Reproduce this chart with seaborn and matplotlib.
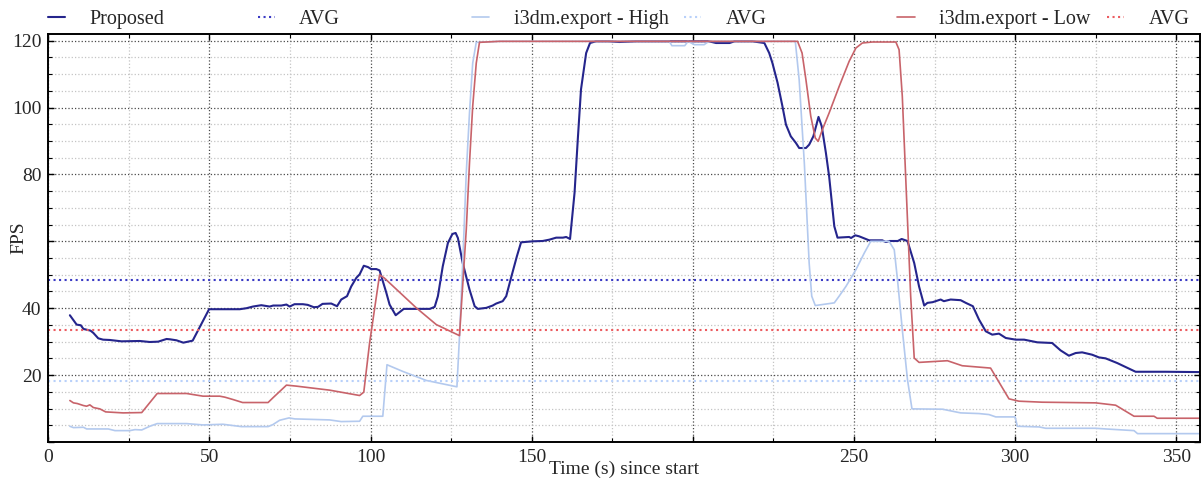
import numpy as np
import pandas as pd
import seaborn as sns
import matplotlib.pyplot as plt
from matplotlib.ticker import MultipleLocator

# values
proposed_t = [6.7, 8.8, 10.1, 10.9, 13.1, 14, 15.5, 17, 19.1, 22.7, 28.4, 31.5, 34.1, 36.7, 37.8, 39.8, 41.9, 44.8,
              49.9, 51.9, 59.4, 61.5, 63.5, 66.1, 68.7, 69.8, 72.3, 73.9, 74.9, 76.4, 79, 80.5, 82.4, 83.7, 85.1, 87.8,
              89.6, 90.9, 92.7, 94, 95.6, 96.6, 97.9, 99.2, 100.2, 101.8, 102.8, 104.9, 105.9, 107.8, 109, 110.3,
              114.2, 118.4, 119.9, 120.9, 122.4, 124, 125.4, 126.4, 127.1, 128.6, 130.7, 132.3, 133.3, 135.9, 137.9,
              139, 141, 142.1, 143.6, 145.4, 146.7, 150.3, 153.4, 155.5, 157.6, 159.7, 160.7, 161.9, 163.3, 164.3,
              165.3, 166.9, 168.1, 169.9, 174, 177.2, 182.4, 192.7, 205, 207.2, 211.4, 212.9, 218.5, 220.6, 222.2,
              223.7, 224.7, 226.3, 227.8, 228.9, 230.4, 232, 233, 235.1, 236.1, 237.4, 239, 240, 241.3, 242.3, 243.9,
              244.9, 248.5, 249.1, 250.4, 251.6, 254.7, 258.8, 259.9, 261, 263.6, 264.8, 266.6, 268.7, 270.2, 271.8,
              272.8, 274.4, 276.9, 277.9, 280, 283.1, 284.7, 286.9, 288.8, 290.9, 292.9, 295, 297.1, 300.2, 302.8,
              306.9, 311.5, 314.1, 316.7, 318.8, 320.8, 323.9, 326, 328.1, 331.7, 334.8, 337.4, 346.7, 357.3]
proposed_fps = [37.9, 35.1, 34.9, 33.8, 33.3, 32.6, 31.0, 30.6, 30.5, 30.1, 30.2, 29.9, 30.0, 30.8, 30.7, 30.4, 29.7,
                30.3, 39.7, 39.7, 39.7, 40.0, 40.5, 40.9, 40.5, 40.8, 40.8, 41.1, 40.5, 41.2, 41.2, 41.0, 40.3, 40.4,
                41.3, 41.4, 40.6, 42.6, 43.6, 46.5, 49.1, 50.1, 52.7, 52.3, 51.7, 51.7, 51.3, 44.6, 41.1, 37.9, 38.8,
                39.8, 39.8, 39.8, 40.4, 43.6, 52.5, 59.5, 62.2, 62.5, 61.0, 53.5, 45.6, 40.6, 39.8, 40.1, 40.8, 41.4,
                42.1, 43.6, 49.1, 55.5, 59.7, 60.0, 60.1, 60.5, 61.1, 61.1, 61.3, 60.7, 74.5, 90.4, 105.4, 116.3,
                119.3, 119.8, 119.8, 119.6, 119.8, 119.8, 119.8, 119.3, 119.3, 119.8, 119.8, 119.5, 119.3, 116.3,
                113.3, 107.4, 100.4, 94.9, 91.4, 89.4, 87.9, 87.9, 88.9, 91.4, 97.2, 94.4, 86.4, 79.4, 64.5, 61.1,
                61.3, 61.0, 61.8, 61.5, 60.3, 60.3, 59.8, 60.1, 60.1, 60.7, 60.1, 53.5, 46.5, 40.8, 41.6, 41.8, 42.6,
                42.1, 42.6, 42.4, 41.6, 40.6, 36.6, 33.1, 32.1, 32.4, 31.1, 30.6, 30.6, 29.8, 29.6, 27.4, 25.8, 26.6,
                26.8, 26.1, 25.3, 25.0, 23.6, 22.2, 21.0, 21.0, 20.9]

high_t = [6.7, 7.8, 10.9, 11.9, 18.6, 20.7, 25.3, 26.9, 29, 31.5, 33.8, 42.9, 48, 54.2, 59.9, 68.2, 69.7, 71.8, 74.7,
          76.5, 87.3, 90.9, 96.6, 97.6, 103.8, 105.1, 110, 117.3, 126.8, 127.6, 128.6, 129.7, 130.7, 131.7, 132.8,
          140, 192.7, 193.5, 197.5, 198.5, 200.5, 203.5, 205, 231.8, 233, 234.6, 236.1, 236.9, 238, 243.9, 245.4,
          247.5, 250.6, 253.2, 255.2, 260.9, 262.5, 263.5, 265, 266.6, 268, 277.5, 283.1, 288.8, 291.9, 294, 300,
          300.7, 307.5, 309.5, 325, 328.1, 336.9, 338, 357.3]
high_fps = [4.7, 4.3, 4.4, 3.9, 3.9, 3.4, 3.4, 3.7, 3.6, 4.7, 5.5, 5.5, 5.1, 5.3, 4.6, 4.6, 5.2, 6.5, 7.2, 6.9, 6.6,
            6.1, 6.2, 7.7, 7.7, 23.1, 21.1, 18.4, 16.5, 31.6, 53.5, 80.4, 98.4, 113.3, 119.5, 119.8, 119.8, 118.5,
            118.5, 119.8, 118.8, 118.8, 119.8, 119.8, 108.3, 83.4, 53.5, 43.6, 40.8, 41.6, 43.6, 46.5, 51.5, 56.5,
            60.0, 60.0, 57.5, 48.6, 33.6, 18.7, 9.9, 9.8, 8.7, 8.5, 8.2, 7.5, 7.5, 4.7, 4.5, 4.1, 4.1, 3.9, 3.4, 2.5,
            2.5]

low_t = [6.7, 7.8, 9, 10.9, 11.9, 12.9, 14, 16, 17.8, 23.2, 29, 33.8, 42.9, 48, 53.2, 54.8, 57.3, 60.3, 68.2, 69.7,
         73.9, 77, 87.3, 96.6, 97.9, 99.7, 102.8, 104.3, 114.2, 120.4, 127.6, 129.7, 130.7, 131.7, 132.8, 133.8, 140,
         232.5, 233.9, 235.1, 236.6, 238, 238.9, 240.2, 242.3, 245.4, 248.5, 250.6, 252.6, 255.7, 263, 264, 265,
         266.3, 267.6, 268.7, 270.2, 279, 283.6, 292.4, 298.1, 301.2, 308.4, 325, 331.2, 336.9, 343.1, 344.1, 357.3]
low_fps = [12.4, 11.7, 11.5, 10.9, 10.7, 11.1, 10.3, 9.9, 9.0, 8.7, 8.8, 14.5, 14.5, 13.7, 13.7, 13.4, 12.7, 11.8,
           11.8, 13.2, 17.0, 16.7, 15.5, 13.9, 14.9, 29.6, 50.0, 49.0, 40.1, 35.1, 31.8, 63.5, 83.4, 100.4, 113.3,
           119.5, 119.8, 119.8, 116.3, 108.3, 97.4, 90.9, 89.9, 93.4, 98.4, 106.3, 113.8, 117.8, 119.3, 119.6, 119.6,
           117.3, 103.4, 73.5, 43.6, 25.1, 23.8, 24.3, 22.8, 22.1, 12.9, 12.2, 11.9, 11.7, 11.0, 7.7, 7.7, 7.1, 7.1]

series_names = ["Proposed", "i3dm.export - High", "i3dm.export - Low"]
avg_fps = [48.5, 18.1, 33.6]
line_colors = ["#25258c", "#b3c9ee", "#c8636a"]
avg_colors = ["#3a3ac4", "#b8d0fa", "#ec5c60"]

x_ticks = [0, 50, 100, 150, 200, 250, 300, 350]
x_ticklabels = ["0", "50", "100", "150", "", "250", "300", "350"]
y_ticks = [0, 20, 40, 60, 80, 100, 120]
y_ticklabels = ["", "20", "40", "", "80", "100", "120"]

df = pd.concat([
    pd.DataFrame({"t": proposed_t, "fps": proposed_fps, "run": series_names[0]}),
    pd.DataFrame({"t": high_t, "fps": high_fps, "run": series_names[1]}),
    pd.DataFrame({"t": low_t, "fps": low_fps, "run": series_names[2]}),
])

sns.set_theme(style="ticks")
plt.rcParams['font.family'] = ['Liberation Serif', 'DejaVu Serif']
plt.rcParams['font.size'] = 14

fig, ax = plt.subplots(figsize=(12.01, 4.84), dpi=100)
fig.subplots_adjust(left=0.0402, right=0.9995, bottom=0.0868, top=0.9298)

widths = [1.5, 1.2, 1.2]
for name, col, avg, acol, lw in zip(series_names, line_colors, avg_fps, avg_colors, widths):
    sub = df[df["run"] == name]
    sns.lineplot(data=sub, x="t", y="fps", color=col, lw=lw, estimator=None, sort=False,
                 label=name, ax=ax, legend=False)
    ax.axhline(avg, color=acol, ls=":", lw=1.5, label="AVG")

ax.set_xlim(0, 357.5)
ax.set_ylim(0, 122)
ax.set_xticks(x_ticks)
ax.set_xticklabels(x_ticklabels)
ax.set_yticks(y_ticks)
ax.set_yticklabels(y_ticklabels)
ax.xaxis.set_minor_locator(MultipleLocator(25))
ax.yaxis.set_minor_locator(MultipleLocator(5))
ax.tick_params(which="both", direction="in", top=True, right=True, labelsize=14, color="black")
ax.tick_params(which="major", length=4, width=1, pad=5)
ax.tick_params(which="minor", length=3, width=0.8)
ax.grid(which="major", color="#4a4a4a", ls=":", lw=0.9)
ax.grid(which="minor", color="#c4c4c4", ls=":", lw=0.9)
ax.set_axisbelow(True)
for s in ax.spines.values():
    s.set_linewidth(1.4)
    s.set_color("black")

ax.set_xlabel("Time (s) since start", fontsize=14)
ax.set_ylabel("FPS", fontsize=14)
ax.xaxis.set_label_coords(0.5, -0.045)
ax.yaxis.set_label_coords(-0.018, 0.5)

# one legend box per entry so the columns start at even steps
handles, labels = ax.get_legend_handles_labels()
anchors = [0.0, 0.182, 0.368, 0.552, 0.737, 0.919]
for h, l, a in zip(handles, labels, anchors):
    leg = ax.legend([h], [l], loc="lower left", bbox_to_anchor=(a, 1.012), frameon=False,
                    borderaxespad=0, borderpad=0, handlelength=0.85, handletextpad=1.2, fontsize=14.5)
    ax.add_artist(leg)
ax.legend_ = None  # already added as artists, avoid drawing the last one twice

fig.savefig("out.png", dpi=100)
